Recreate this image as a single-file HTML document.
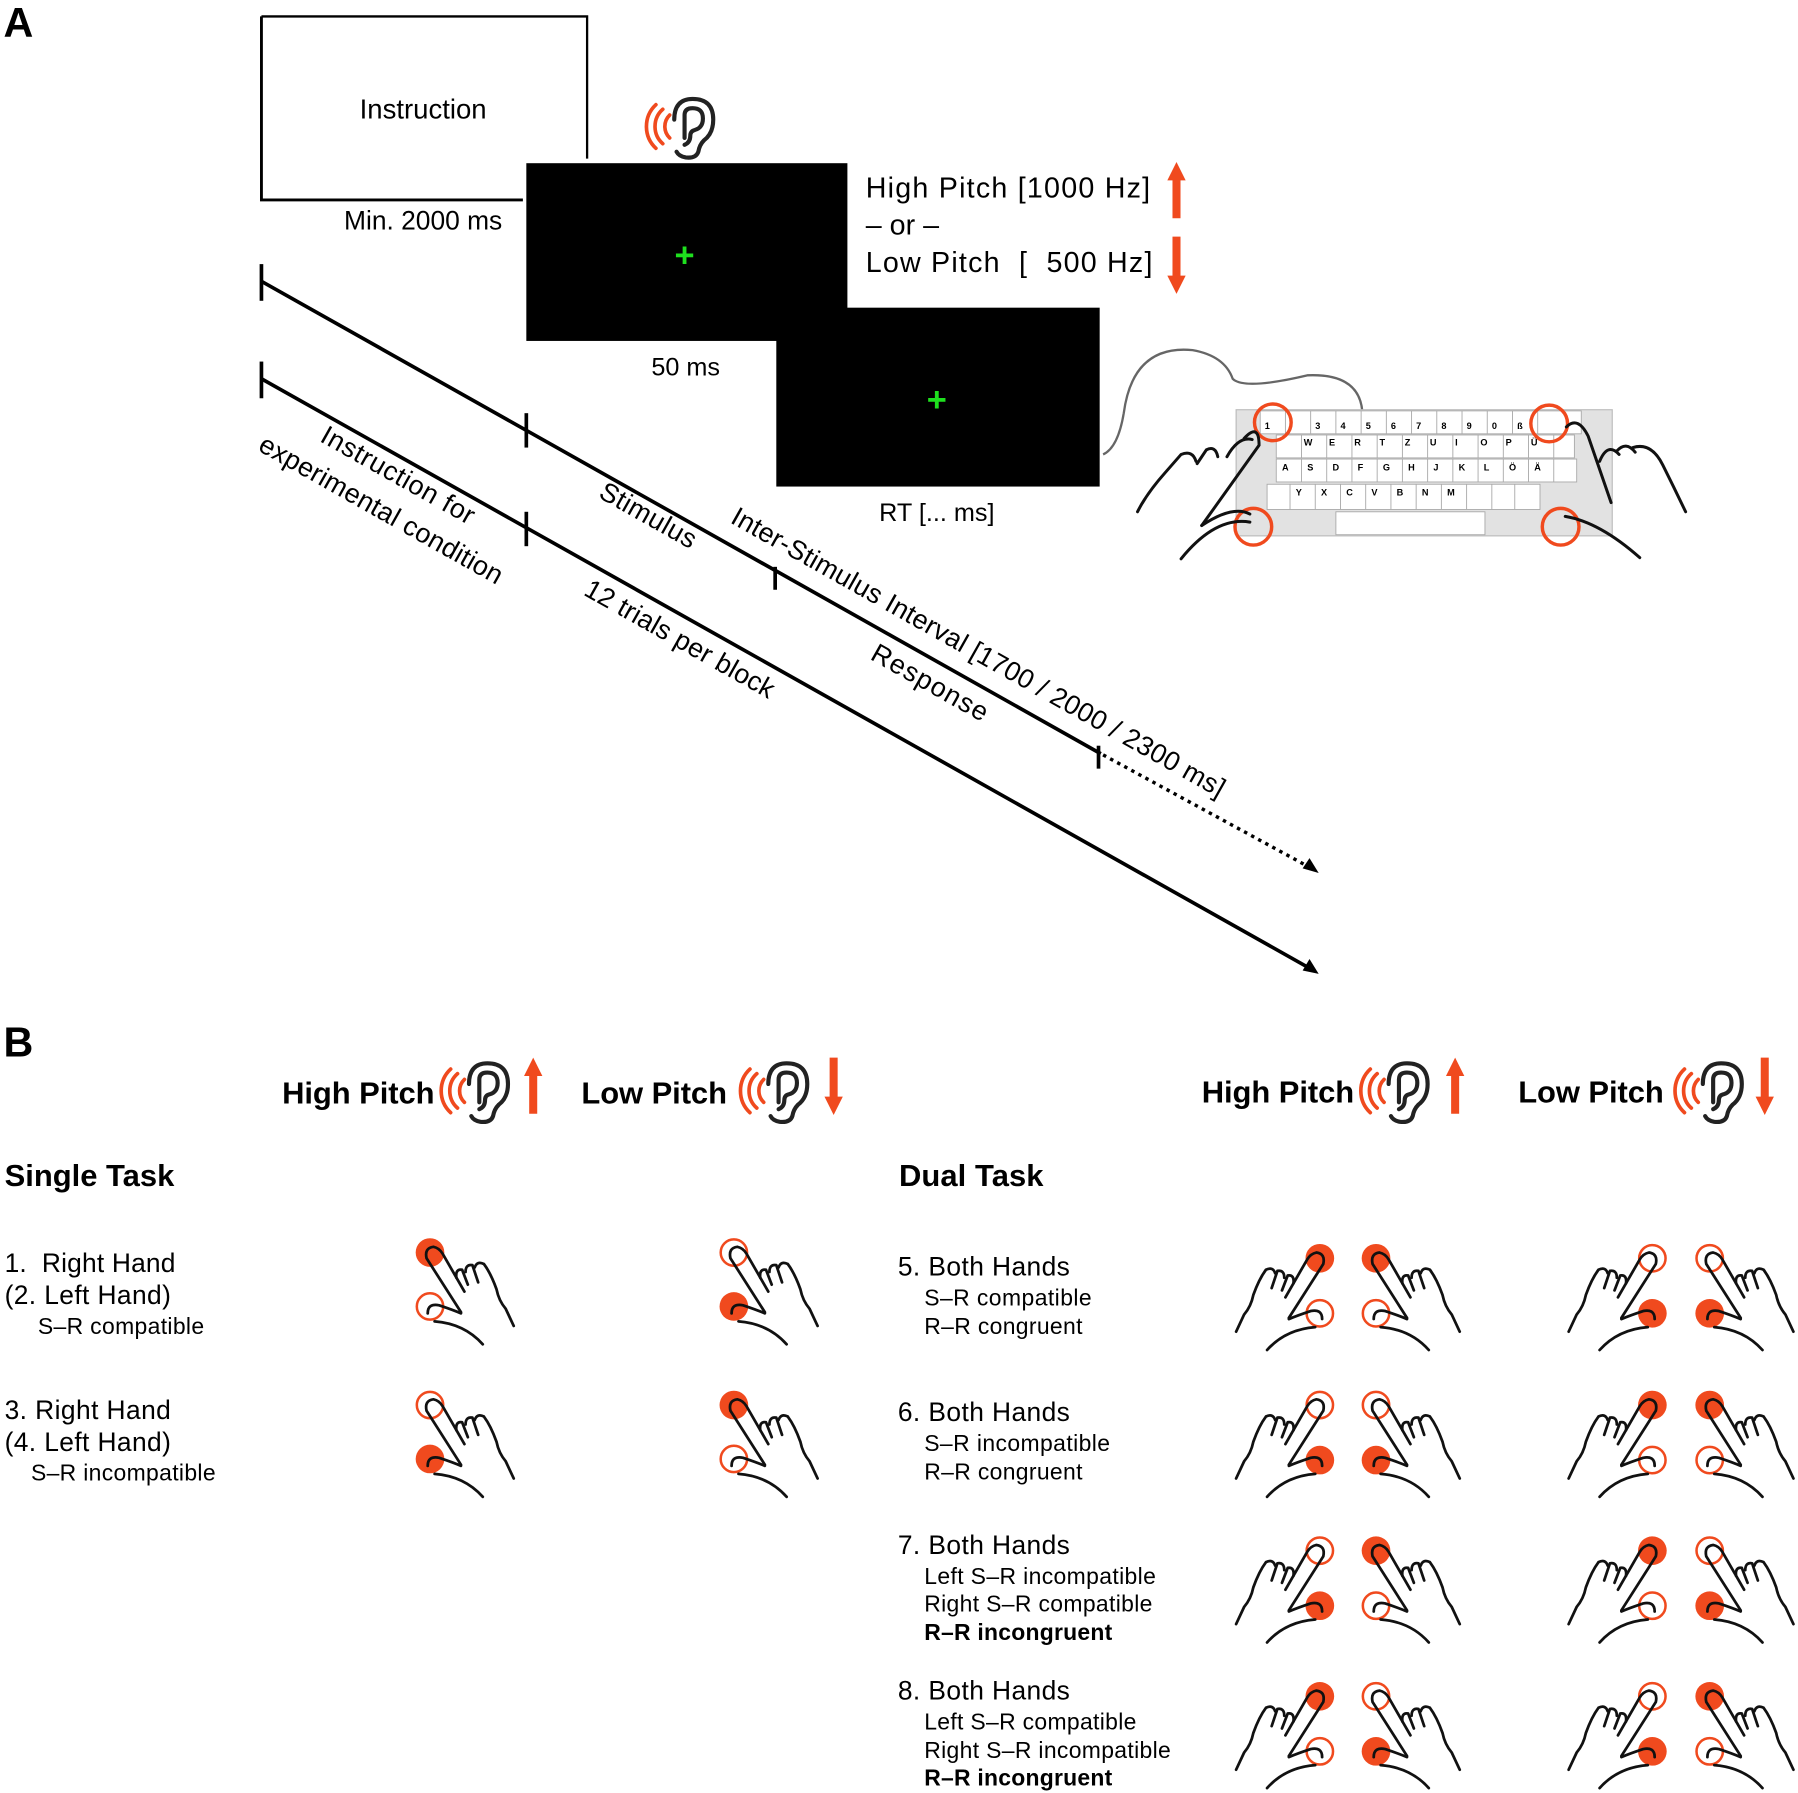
<!DOCTYPE html>
<html><head><meta charset="utf-8"><style>
html,body{margin:0;padding:0;background:#fff}
svg{display:block}
text{font-family:"Liberation Sans",sans-serif;fill:#000}
</style></head><body>
<svg width="1798" height="1793" viewBox="0 0 1568 1563" xmlns="http://www.w3.org/2000/svg">
<defs>
<g id="ear">
 <g fill="none" stroke="#f04a1e" stroke-width="3.2" stroke-linecap="round">
  <path d="M-16,-10 A14,14 0 0 0 -16,10"/>
  <path d="M-22,-15 A20,20 0 0 0 -22,15"/>
  <path d="M-28,-19 A26,26 0 0 0 -28,19"/>
 </g>
 <g fill="none" stroke="#222" stroke-width="3.6" stroke-linecap="round">
  <path d="M-12,-6 Q-12,-24 4,-24 Q22,-24 22,-6 Q22,6 14,12 Q10,16 9,22 Q7,28 -2,27 Q-8,26 -10,22"/>
  <path d="M-3,10 L-3,-10 Q-3,-16 4,-16 Q13,-16 13,-7 Q13,1 6,3 Q2,4 2,8 Q2,14 -3,16"/>
 </g>
</g>
<g id="up"><path d="M-3.5,45 L-3.5,12 L-8,12 L0,-4 L8,12 L3.5,12 L3.5,45 Z" fill="#f04a1e"/></g>
<g id="dn"><path d="M-3.5,-4 L-3.5,30 L-8,30 L0,46 L8,30 L3.5,30 L3.5,-4 Z" fill="#f04a1e"/></g>
<g id="hand" fill="none" stroke="#111" stroke-width="2.4" stroke-linecap="round" stroke-linejoin="round">
 <path d="M27,52 L-3,5 Q-5,-4 3,-5 Q8,-4 11,1 L30,34"/>
 <path d="M23,22 Q22,14 28,15 L33,28"/>
 <path d="M31,17 Q31,10 37,11 L42,26"/>
 <path d="M39,13 Q41,7 47,10 Q53,18 58,32 Q60,42 66,49 L73,64"/>
 <path d="M-2,53 Q-2,44 8,46 Q20,50 27,53"/>
 <path d="M4,60 Q30,62 46,80"/>
</g>
<g id="fT"><circle cx="0" cy="0" r="12.5" fill="#f04a1e"/></g>
<g id="oT"><circle cx="0" cy="0" r="11.5" fill="#fff" stroke="#f04a1e" stroke-width="2.2"/></g>
</defs>

<!-- PANEL A -->
<text x="3" y="32" font-size="36" font-weight="bold">A</text>
<path d="M228,14 L512,14 L512,138" fill="none" stroke="#000" stroke-width="2"/>
<path d="M228,14 L228,174 L456,174" fill="none" stroke="#000" stroke-width="2.5"/>
<text x="369" y="103" font-size="24" text-anchor="middle">Instruction</text>
<text x="369" y="200" font-size="23" text-anchor="middle">Min. 2000 ms</text>
<rect x="459" y="142" width="280" height="155" fill="#000"/>
<text x="597" y="232" font-size="30" font-weight="bold" text-anchor="middle" style="fill:#1ee01e">+</text>
<text x="598" y="327" font-size="22" text-anchor="middle">50 ms</text>
<rect x="677" y="268" width="282" height="156" fill="#000"/>
<text x="817" y="358" font-size="30" font-weight="bold" text-anchor="middle" style="fill:#1ee01e">+</text>
<text x="817" y="454" font-size="22" text-anchor="middle">RT [... ms]</text>
<use href="#ear" x="600" y="110"/>
<text x="755" y="172" font-size="25" textLength="248">High Pitch [1000 Hz]</text>
<text x="755" y="204" font-size="25">– or –</text>
<text x="755" y="237" font-size="25" textLength="250" xml:space="preserve">Low Pitch  [  500 Hz]</text>
<use href="#up" x="1026" y="145"/>
<use href="#dn" x="1026" y="210"/>

<!-- timelines -->
<g stroke="#000" stroke-width="3.2" fill="none">
 <line x1="228" y1="245" x2="960" y2="657"/>
 <line x1="228" y1="330" x2="1142" y2="844"/>
 <line x1="228" y1="230" x2="228" y2="262"/>
 <line x1="228" y1="315" x2="228" y2="347"/>
 <line x1="459" y1="360" x2="459" y2="390"/>
 <line x1="459" y1="446" x2="459" y2="476"/>
 <line x1="676" y1="494" x2="676" y2="514"/>
 <line x1="958" y1="650" x2="958" y2="670"/>
 <line x1="962" y1="658" x2="1142" y2="756" stroke-dasharray="3,4" stroke-width="3"/>
</g>
<path d="M1150,761 L1136,757 L1142,748 Z" fill="#000"/>
<path d="M1150,849 L1136,846 L1142,836 Z" fill="#000"/>
<g font-size="23.5">
 <text transform="translate(278,384) rotate(29.4)" textLength="150">Instruction for</text>
 <text transform="translate(224,392) rotate(29.4)" textLength="240">experimental condition</text>
 <text transform="translate(521,433) rotate(29.4)" textLength="93">Stimulus</text>
 <text transform="translate(636,455) rotate(29.4)" textLength="490">Inter-Stimulus Interval [1700 / 2000 / 2300 ms]</text>
 <text transform="translate(508,518) rotate(29.4)" textLength="186">12 trials per block</text>
 <text transform="translate(758,574) rotate(29.4)" textLength="113">Response</text>
</g>

<!-- keyboard -->
<g>
 <path d="M962,396 Q975,390 980,360 Q988,300 1040,305 Q1068,310 1075,330 Q1085,340 1140,327 Q1185,325 1188,358" fill="none" stroke="#666" stroke-width="2"/>
 <rect x="1078" y="357" width="328" height="110" fill="#e2e2e2" stroke="#bbb"/>
 <g fill="#fff" stroke="#aaa" stroke-width="0.8">
  <rect x="1099" y="358" width="280" height="20"/>
  <rect x="1113" y="379" width="260" height="20"/>
  <rect x="1113" y="400" width="262" height="20"/>
  <rect x="1105" y="422" width="238" height="22"/>
  <rect x="1165" y="446" width="130" height="20"/>
 </g>
 <g stroke="#aaa" stroke-width="0.8">
  <path d="M1121,358v20M1143,358v20M1165,358v20M1187,358v20M1209,358v20M1231,358v20M1253,358v20M1275,358v20M1297,358v20M1319,358v20M1341,358v20"/>
  <path d="M1135,379v20M1157,379v20M1179,379v20M1201,379v20M1223,379v20M1245,379v20M1267,379v20M1289,379v20M1311,379v20M1333,379v20M1355,379v20"/>
  <path d="M1135,400v20M1157,400v20M1179,400v20M1201,400v20M1223,400v20M1245,400v20M1267,400v20M1289,400v20M1311,400v20M1333,400v20M1355,400v20"/>
  <path d="M1125,422v22M1147,422v22M1169,422v22M1191,422v22M1213,422v22M1235,422v22M1257,422v22M1279,422v22M1301,422v22M1321,422v22"/>
 </g>
 <g font-size="8" font-weight="bold">
  <text x="1103" y="374">1</text><text x="1147" y="374">3</text><text x="1169" y="374">4</text><text x="1191" y="374">5</text><text x="1213" y="374">6</text><text x="1235" y="374">7</text><text x="1257" y="374">8</text><text x="1279" y="374">9</text><text x="1301" y="374">0</text><text x="1323" y="374">ß</text>
  <text x="1137" y="388">W</text><text x="1159" y="388">E</text><text x="1181" y="388">R</text><text x="1203" y="388">T</text><text x="1225" y="388">Z</text><text x="1247" y="388">U</text><text x="1269" y="388">I</text><text x="1291" y="388">O</text><text x="1313" y="388">P</text><text x="1335" y="388">Ü</text>
  <text x="1118" y="410">A</text><text x="1140" y="410">S</text><text x="1162" y="410">D</text><text x="1184" y="410">F</text><text x="1206" y="410">G</text><text x="1228" y="410">H</text><text x="1250" y="410">J</text><text x="1272" y="410">K</text><text x="1294" y="410">L</text><text x="1316" y="410">Ö</text><text x="1338" y="410">Ä</text>
  <text x="1130" y="432">Y</text><text x="1152" y="432">X</text><text x="1174" y="432">C</text><text x="1196" y="432">V</text><text x="1218" y="432">B</text><text x="1240" y="432">N</text><text x="1262" y="432">M</text>
 </g>
 <g fill="none" stroke="#f04a1e" stroke-width="3">
  <circle cx="1110" cy="368" r="16"/><circle cx="1351" cy="369" r="16"/>
  <circle cx="1093" cy="459" r="16"/><circle cx="1361" cy="459" r="16"/>
 </g>
 <g fill="none" stroke="#111" stroke-width="2.6" stroke-linecap="round">
  <path d="M1085,382 Q1098,368 1098,388 L1048,458"/>
  <path d="M1092,383 Q1080,380 1070,398 M1062,398 Q1060,388 1052,392 L1044,404 M1043,402 Q1040,392 1030,396 L1016,412 Q1000,430 992,446"/>
  <path d="M1048,458 Q1075,440 1090,448"/>
  <path d="M1030,487 Q1060,450 1090,455"/>
  <path d="M1366,372 Q1376,362 1385,380 L1405,438"/>
  <path d="M1395,402 Q1402,385 1412,396 M1410,393 Q1418,384 1426,394 M1424,390 Q1440,385 1450,405 Q1460,425 1470,446"/>
  <path d="M1365,450 Q1395,455 1430,486"/>
 </g>
</g>

<!-- PANEL B -->
<text x="3" y="921" font-size="36" font-weight="bold">B</text>
<g font-size="27" font-weight="bold">
 <text x="246" y="962" textLength="133">High Pitch</text>
 <text x="507" y="962" textLength="127">Low Pitch</text>
 <text x="1048" y="961" textLength="133">High Pitch</text>
 <text x="1324" y="961" textLength="127">Low Pitch</text>
 <text x="4" y="1034" textLength="148">Single Task</text>
 <text x="784" y="1034" textLength="126">Dual Task</text>
</g>
<use href="#ear" x="421" y="951"/><use href="#up" x="465" y="926"/>
<use href="#ear" x="682" y="951"/><use href="#dn" x="727" y="926"/>
<use href="#ear" x="1223" y="951"/><use href="#up" x="1269" y="926"/>
<use href="#ear" x="1497" y="951"/><use href="#dn" x="1539" y="926"/>

<g font-size="23">
 <text x="4" y="1109" xml:space="preserve" textLength="149">1.  Right Hand</text>
 <text x="4" y="1137" textLength="145">(2. Left Hand)</text>
 <text x="33" y="1163" font-size="20" textLength="145">S–R compatible</text>
 <text x="4" y="1237" textLength="145">3. Right Hand</text>
 <text x="4" y="1265" textLength="145">(4. Left Hand)</text>
 <text x="27" y="1291" font-size="20" textLength="161">S–R incompatible</text>
 <text x="783" y="1112" textLength="150">5. Both Hands</text>
 <text x="806" y="1138" font-size="20" textLength="146">S–R compatible</text>
 <text x="806" y="1163" font-size="20" textLength="138">R–R congruent</text>
 <text x="783" y="1239" textLength="150">6. Both Hands</text>
 <text x="806" y="1265" font-size="20" textLength="162">S–R incompatible</text>
 <text x="806" y="1290" font-size="20" textLength="138">R–R congruent</text>
 <text x="783" y="1355" textLength="150">7. Both Hands</text>
 <text x="806" y="1381" font-size="20" textLength="202">Left S–R incompatible</text>
 <text x="806" y="1405" font-size="20" textLength="199">Right S–R compatible</text>
 <text x="806" y="1430" font-size="20" font-weight="bold" textLength="164">R–R incongruent</text>
 <text x="783" y="1482" textLength="150">8. Both Hands</text>
 <text x="806" y="1508" font-size="20" textLength="185">Left S–R compatible</text>
 <text x="806" y="1533" font-size="20" textLength="215">Right S–R incompatible</text>
 <text x="806" y="1557" font-size="20" font-weight="bold" textLength="164">R–R incongruent</text>
</g>

<!-- single task hands -->
<g transform="translate(375,1092)"><use href="#fT"/><use href="#oT" y="47"/><use href="#hand"/></g>
<g transform="translate(640,1092)"><use href="#oT"/><use href="#fT" y="47"/><use href="#hand"/></g>
<g transform="translate(375,1225)"><use href="#oT"/><use href="#fT" y="47"/><use href="#hand"/></g>
<g transform="translate(640,1225)"><use href="#fT"/><use href="#oT" y="47"/><use href="#hand"/></g>

<!-- row5 -->
<g transform="translate(1151,1097) scale(-1,1)"><use href="#fT"/><use href="#oT" y="48"/><use href="#hand"/></g>
<g transform="translate(1200,1097)"><use href="#fT"/><use href="#oT" y="48"/><use href="#hand"/></g>
<g transform="translate(1441,1097) scale(-1,1)"><use href="#oT"/><use href="#fT" y="48"/><use href="#hand"/></g>
<g transform="translate(1491,1097)"><use href="#oT"/><use href="#fT" y="48"/><use href="#hand"/></g>
<!-- row6 -->
<g transform="translate(1151,1225) scale(-1,1)"><use href="#oT"/><use href="#fT" y="48"/><use href="#hand"/></g>
<g transform="translate(1200,1225)"><use href="#oT"/><use href="#fT" y="48"/><use href="#hand"/></g>
<g transform="translate(1441,1225) scale(-1,1)"><use href="#fT"/><use href="#oT" y="48"/><use href="#hand"/></g>
<g transform="translate(1491,1225)"><use href="#fT"/><use href="#oT" y="48"/><use href="#hand"/></g>
<!-- row7 -->
<g transform="translate(1151,1352) scale(-1,1)"><use href="#oT"/><use href="#fT" y="48"/><use href="#hand"/></g>
<g transform="translate(1200,1352)"><use href="#fT"/><use href="#oT" y="48"/><use href="#hand"/></g>
<g transform="translate(1441,1352) scale(-1,1)"><use href="#fT"/><use href="#oT" y="48"/><use href="#hand"/></g>
<g transform="translate(1491,1352)"><use href="#oT"/><use href="#fT" y="48"/><use href="#hand"/></g>
<!-- row8 -->
<g transform="translate(1151,1479) scale(-1,1)"><use href="#fT"/><use href="#oT" y="48"/><use href="#hand"/></g>
<g transform="translate(1200,1479)"><use href="#oT"/><use href="#fT" y="48"/><use href="#hand"/></g>
<g transform="translate(1441,1479) scale(-1,1)"><use href="#oT"/><use href="#fT" y="48"/><use href="#hand"/></g>
<g transform="translate(1491,1479)"><use href="#fT"/><use href="#oT" y="48"/><use href="#hand"/></g>
</svg>
</body></html>
